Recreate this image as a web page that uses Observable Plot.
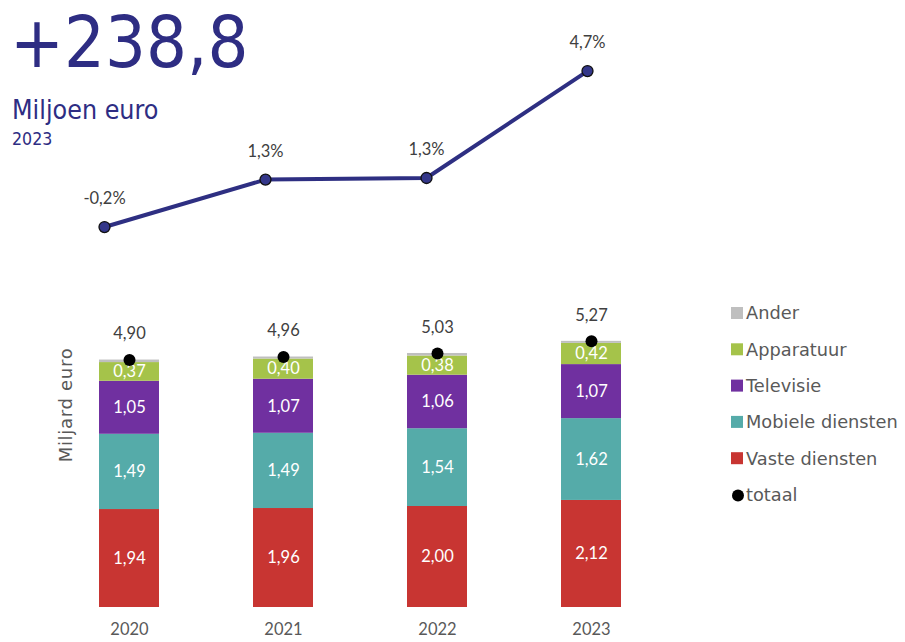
<!DOCTYPE html>
<html><head><meta charset="utf-8">
<script src="https://cdn.jsdelivr.net/npm/d3@7"></script>
<script src="https://cdn.jsdelivr.net/npm/@observablehq/plot@0.6"></script>
<style>
body{margin:0;background:#fff}
#wrap{position:relative;width:905px;height:642px;overflow:hidden;background:#fff}
#wrap svg{position:absolute;left:0;top:0}
#headline{position:absolute;left:10px;top:6px;font-family:'DejaVu Sans',sans-serif;font-size:72px;line-height:72px;color:#2e2d83;white-space:nowrap;transform:scaleX(0.895);transform-origin:0 0}
</style></head><body><div id="wrap"><div id="headline"></div></div>
<script>
const years = ["2020", "2021", "2022", "2023"];
const categories = ["Vaste diensten", "Mobiele diensten", "Televisie", "Apparatuur", "Ander"];
const vaste = [1.94, 1.96, 2.00, 2.12];
const mobiele = [1.49, 1.49, 1.54, 1.62];
const televisie = [1.05, 1.07, 1.06, 1.07];
const apparatuur = [0.37, 0.40, 0.38, 0.42];
const ander = [0.05, 0.04, 0.05, 0.04];
const totaal = [4.90, 4.96, 5.03, 5.27];
const growth = [-0.2, 1.29, 1.34, 4.7];
const colors = ["#c83532", "#55aba9", "#7030a0", "#a5c34a", "#bfbfbf"];
const legendOrder = ["Ander", "Apparatuur", "Televisie", "Mobiele diensten", "Vaste diensten"];
const headline = "+238,8";
const headlineUnit = "Miljoen euro";
const headlineYear = "2023";
const yLabel = "Miljard euro";

const series = [vaste, mobiele, televisie, apparatuur, ander];
const rows = years.flatMap((y, i) => categories.map((c, j) => ({year: y, cat: c, value: series[j][i]})));
const totals = years.map((y, i) => ({year: y, total: totaal[i]}));
const gr = years.map((y, i) => ({year: y, g: growth[i]}));
const fmt2 = v => v.toFixed(2).replace(".", ",");
const fmt1 = v => v.toFixed(1).replace(".", ",") + "%";

const wrap = document.getElementById("wrap");
document.getElementById("headline").textContent = headline;
const labelFont = "Lato, 'Open Sans', sans-serif";

const bars = Plot.plot({
  width: 905, height: 642,
  marginLeft: 50, marginRight: 236, marginTop: 304, marginBottom: 35,
  x: {type: "band", domain: years, padding: 0, axis: null},
  y: {domain: [0, 6], axis: null},
  color: {domain: categories, range: colors},
  style: {fontFamily: labelFont, background: "transparent", overflow: "visible"},
  marks: [
    Plot.barY(rows, {x: "year", y: "value", fill: "cat", z: "cat", order: categories, insetLeft: 47, insetRight: 47}),
    Plot.text(rows, Plot.stackY({x: "year", y: "value", z: "cat", order: categories,
      text: d => d.cat === "Ander" ? "" : fmt2(d.value), fill: "white", fontSize: 16.5})),
    Plot.dot(totals, {x: "year", y: "total", r: 6, fill: "black"}),
    Plot.text(totals, {x: "year", y: "total", text: d => fmt2(d.total), dy: -26, fill: "#404040", fontSize: 16.5}),
    Plot.axisX({tickSize: 0, tickPadding: 16, fontSize: 16.5, color: "#595959", label: null})
  ]
});
wrap.appendChild(bars);

const line = Plot.plot({
  width: 905, height: 642,
  marginLeft: 23.5, marginRight: 237.5, marginTop: 61, marginBottom: 390,
  x: {type: "point", domain: years, axis: null},
  y: {domain: [-1, 5], axis: null},
  style: {fontFamily: labelFont, background: "transparent", overflow: "visible"},
  marks: [
    Plot.line(gr, {x: "year", y: "g", stroke: "#2e2f82", strokeWidth: 4}),
    Plot.dot(gr, {x: "year", y: "g", r: 5.5, fill: "#34378a", stroke: "#111", strokeWidth: 1.3}),
    Plot.text(gr, {x: "year", y: "g", text: d => fmt1(d.g), dy: -28, fill: "#404040", fontSize: 16.5})
  ]
});
wrap.appendChild(line);

// Subtitles, axis title and legend
const svg = d3.select(wrap).append("svg").attr("width", 905).attr("height", 642);
const navy = "#2e2d83";
svg.append("text").text(headlineUnit).attr("x", 12).attr("y", 119)
  .attr("font-family", "'DejaVu Sans', sans-serif").attr("font-size", 26).attr("fill", navy)
  .attr("transform", "translate(12,0) scale(0.92,1) translate(-12,0)");
svg.append("text").text(headlineYear).attr("x", 12).attr("y", 145)
  .attr("font-family", "'DejaVu Sans', sans-serif").attr("font-size", 18).attr("fill", navy)
  .attr("transform", "translate(12,0) scale(0.88,1) translate(-12,0)");
svg.append("text").text(yLabel)
  .attr("transform", "translate(72,405) rotate(-90)")
  .attr("text-anchor", "middle").attr("font-family", "'DejaVu Sans', sans-serif")
  .attr("font-size", 18).attr("letter-spacing", 0.7).attr("fill", "#595959");

const colorOf = c => colors[categories.indexOf(c)];
const legendItems = legendOrder.map(c => ({label: c, color: colorOf(c), type: "rect"}))
  .concat([{label: "totaal", color: "black", type: "dot"}]);
const lg = svg.append("g").attr("font-family", "'DejaVu Sans', sans-serif").attr("font-size", 17.8).attr("fill", "#595959");
legendItems.forEach((d, i) => {
  const cy = 313 + i * 36.3;
  if (d.type === "rect") lg.append("rect").attr("x", 731).attr("y", cy - 6).attr("width", 12).attr("height", 12).attr("fill", d.color);
  else lg.append("circle").attr("cx", 738).attr("cy", cy + 1).attr("r", 6).attr("fill", d.color);
  lg.append("text").text(d.label).attr("x", 746).attr("y", cy).attr("dy", "0.36em");
});
</script>
</body></html>
